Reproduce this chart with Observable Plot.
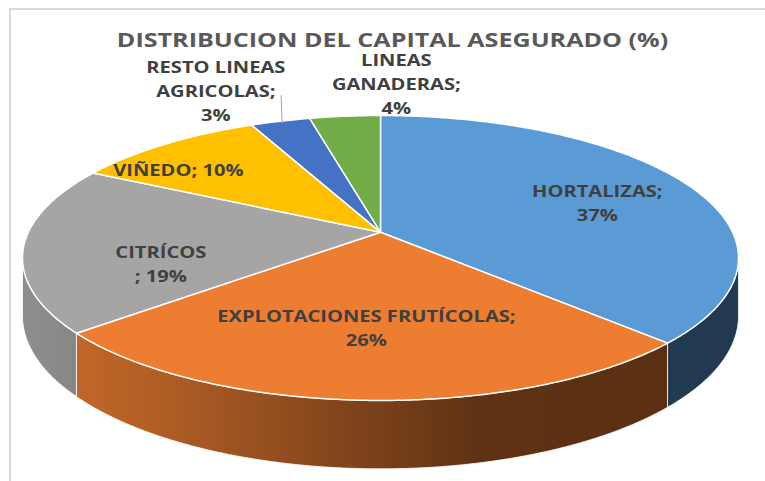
<!DOCTYPE html>
<html><head><meta charset="utf-8">
<script src="https://cdn.jsdelivr.net/npm/d3@7"></script>
<script src="https://cdn.jsdelivr.net/npm/@observablehq/plot@0.6"></script>
<style>
body{margin:0;background:#fff;}
#wrap{position:relative;width:765px;height:481px;overflow:hidden;background:#fff;}
#border{position:absolute;left:9px;top:8px;width:800px;height:600px;border-left:2px solid #d9d9d9;border-top:2px solid #d9d9d9;}
#chart{position:absolute;left:0;top:0;}
</style></head><body>
<div id="wrap"><div id="border"></div><div id="chart"></div></div>
<script>
// ---- data ----
const title = "DISTRIBUCION DEL CAPITAL ASEGURADO (%)";
const categories = ["HORTALIZAS", "EXPLOTACIONES FRUTÍCOLAS", "CITRÍCOS", "VIÑEDO", "RESTO LINEAS AGRICOLAS", "LINEAS GANADERAS"];
const shares = [37.4, 26.4, 18.9, 10.3, 3.2, 3.8];
const labelFormats = ["HORTALIZAS;\n{v}%", "EXPLOTACIONES FRUTÍCOLAS;\n{v}%", "CITRÍCOS\n; {v}%", "VIÑEDO; {v}%", "RESTO LINEAS\nAGRICOLAS;\n{v}%", "LINEAS\nGANADERAS;\n{v}%"];
const colors = ["#5b9bd5", "#ed7d31", "#a5a5a5", "#ffc000", "#4472c4", "#70ad47"];

// ---- layout (styling, not data) ----
const G = {cx: 380, cy: 231.7, a: 352.1, b: 137.8, k: 0.181, depth: 56};
const labelRadius = [0.7, 0.61, 0.62, 0.7, 1.3, 1.3];
const labelShift = [[0, 5], [-5, 0], [0, 21], [-46, 0], [-40, -5], [60, -6]];
const leader = [false, false, false, false, true, false];

function proj(theta, r = 1) {
  const u = r * Math.sin(theta), v = -r * Math.cos(theta);
  const w = 1 - G.k * v;
  return {x: G.cx + G.a * u / w, y: G.cy + G.b * v / w, w};
}

const total = d3.sum(shares);
let acc = 0;
const slices = shares.map((s, i) => {
  const a0 = acc / total * 2 * Math.PI;
  acc += s;
  const a1 = acc / total * 2 * Math.PI;
  return {i, name: categories[i], value: s, a0, a1, color: colors[i]};
});

function arcPts(a0, a1) {
  const n = Math.max(2, Math.ceil((a1 - a0) / (Math.PI / 360)));
  return d3.range(n + 1).map(j => a0 + (a1 - a0) * j / n);
}

// top faces
const topRows = [];
for (const s of slices) {
  topRows.push({id: s.i, x: G.cx, y: G.cy, fill: s.color});
  for (const t of arcPts(s.a0, s.a1)) {
    const p = proj(t);
    topRows.push({id: s.i, x: p.x, y: p.y, fill: s.color});
  }
  topRows.push({id: s.i, x: G.cx, y: G.cy, fill: s.color});
}

// side walls (front visible part)
const visA = Math.acos(-G.k), visB = 2 * Math.PI - Math.acos(-G.k);
const sideMarks = [];
for (const s of slices) {
  const a0 = Math.max(s.a0, visA), a1 = Math.min(s.a1, visB);
  if (a1 <= a0) continue;
  const ts = arcPts(a0, a1);
  const rows = [];
  for (const t of ts) { const p = proj(t); rows.push({x: p.x, y: p.y}); }
  for (const t of ts.slice().reverse()) { const p = proj(t); rows.push({x: p.x, y: p.y + G.depth / p.w}); }
  rows.push(rows[0]);
  sideMarks.push(Plot.line(rows, {x: "x", y: "y", fill: `url(#side${s.i})`, stroke: "#ffffff", strokeWidth: 1, strokeOpacity: 0.8}));
}

// labels
const labelRows = slices.map(s => {
  const m = (s.a0 + s.a1) / 2;
  const p = proj(m, labelRadius[s.i]);
  return {x: p.x + labelShift[s.i][0], y: p.y + labelShift[s.i][1],
          text: labelFormats[s.i].replace("{v}", Math.round(s.value))};
});
const leaderRows = slices.filter(s => leader[s.i]).map(s => {
  const m = (s.a0 + s.a1) / 2;
  const p = proj(m, 0.98);
  const l = labelRows[s.i];
  return {x1: p.x, y1: p.y, x2: p.x - 1, y2: l.y + 6.5};
});

const font = "'Open Sans', 'DejaVu Sans', sans-serif";
const svg = Plot.plot({
  width: 765, height: 481, margin: 0,
  x: {type: "identity", axis: null},
  y: {type: "identity", axis: null},
  color: {type: "identity"},
  style: {background: "transparent", overflow: "visible"},
  marks: [
    ...sideMarks,
    Plot.line(topRows, {x: "x", y: "y", z: "id", fill: "fill", stroke: "#ffffff", strokeWidth: 1.5, strokeLinejoin: "round"}),
    Plot.link(leaderRows, {x1: "x1", y1: "y1", x2: "x2", y2: "y2", stroke: "#a6a6a6", strokeWidth: 1}),
    Plot.text(labelRows, {x: "x", y: "y", text: "text", fill: "#404040", fontSize: 16.5, fontWeight: "bold", fontFamily: font, lineHeight: 1.45, textAnchor: "middle", className: "lbl"}),
    Plot.text([title], {text: d => d, frameAnchor: "top", lineAnchor: "bottom", dy: 46.7, dx: 9.5, fill: "#595959", fontSize: 20, fontWeight: "bold", fontFamily: font, className: "ttl"})
  ]
});

// horizontal widening of the text (the reference's lettering is wide)
svg.querySelectorAll("g.lbl text").forEach(t => t.setAttribute("transform", (t.getAttribute("transform") || "") + " scale(1.22,1)"));
svg.querySelectorAll("g.ttl text").forEach(t => t.setAttribute("transform", (t.getAttribute("transform") || "") + " scale(1.256,1)"));

// gradients for the side walls
const ns = "http://www.w3.org/2000/svg";
const defs = document.createElementNS(ns, "defs");
function shade(c, f) { const r = d3.rgb(c); return d3.rgb(r.r * f, r.g * f, r.b * f).formatHex(); }
colors.forEach((c, i) => {
  const g = document.createElementNS(ns, "linearGradient");
  g.setAttribute("id", "side" + i);
  g.setAttribute("gradientUnits", "userSpaceOnUse");
  g.setAttribute("x1", 22); g.setAttribute("y1", 0); g.setAttribute("x2", 740); g.setAttribute("y2", 0);
  [[0, 0.86], [0.2, 0.74], [0.638, 0.40], [1, 0.37]].forEach(([o, f]) => {
    const st = document.createElementNS(ns, "stop");
    st.setAttribute("offset", o); st.setAttribute("stop-color", shade(c, f));
    g.appendChild(st);
  });
  defs.appendChild(g);
});
svg.insertBefore(defs, svg.firstChild);
document.getElementById("chart").appendChild(svg);
</script>
</body></html>
